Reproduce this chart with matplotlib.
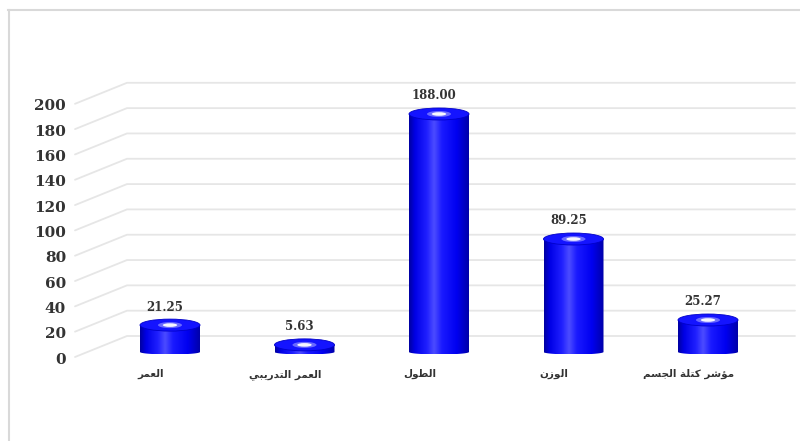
import numpy as np
import matplotlib
matplotlib.use('Agg')
import matplotlib.pyplot as plt
from matplotlib.colors import LinearSegmentedColormap
from matplotlib.patches import Ellipse, Polygon
from matplotlib.lines import Line2D
from matplotlib.transforms import ScaledTranslation

categories = ['العمر', 'العمر التدريبي', 'الطول', 'الوزن', 'مؤشر كتلة الجسم']
values = [21.25, 5.63, 188.00, 89.25, 25.27]
value_labels = ['21.25', '5.63', '188.00', '89.25', '25.27']
y_ticks = list(range(0, 201, 20))

# arabic presentation forms: isolated, final, initial, medial
FORMS = {
    'ا': ('\uFE8D', '\uFE8E', None, None),
    'ل': ('\uFEDD', '\uFEDE', '\uFEDF', '\uFEE0'),
    'ع': ('\uFEC9', '\uFECA', '\uFECB', '\uFECC'),
    'م': ('\uFEE1', '\uFEE2', '\uFEE3', '\uFEE4'),
    'ر': ('\uFEAD', '\uFEAE', None, None),
    'ت': ('\uFE95', '\uFE96', '\uFE97', '\uFE98'),
    'د': ('\uFEA9', '\uFEAA', None, None),
    'ي': ('\uFEF1', '\uFEF2', '\uFEF3', '\uFEF4'),
    'ب': ('\uFE8F', '\uFE90', '\uFE91', '\uFE92'),
    'ط': ('\uFEC1', '\uFEC2', '\uFEC3', '\uFEC4'),
    'و': ('\uFEED', '\uFEEE', None, None),
    'ز': ('\uFEAF', '\uFEB0', None, None),
    'ن': ('\uFEE5', '\uFEE6', '\uFEE7', '\uFEE8'),
    'ؤ': ('\uFE85', '\uFE86', None, None),
    'ش': ('\uFEB5', '\uFEB6', '\uFEB7', '\uFEB8'),
    'ك': ('\uFED9', '\uFEDA', '\uFEDB', '\uFEDC'),
    'ة': ('\uFE93', '\uFE94', None, None),
    'ج': ('\uFE9D', '\uFE9E', '\uFE9F', '\uFEA0'),
    'س': ('\uFEB1', '\uFEB2', '\uFEB3', '\uFEB4'),
}


def shape_ar(text):
    out = []
    for i, c in enumerate(text):
        if c not in FORMS:
            out.append(c)
            continue
        prev = text[i - 1] if i > 0 else None
        nxt = text[i + 1] if i + 1 < len(text) else None
        join_prev = prev in FORMS and FORMS[prev][2] is not None
        join_next = nxt in FORMS and FORMS[c][2] is not None
        iso, fin, ini, med = FORMS[c]
        if join_prev and join_next:
            out.append(med)
        elif join_prev:
            out.append(fin)
        elif join_next:
            out.append(ini)
        else:
            out.append(iso)
    return ''.join(reversed(out))


W, H = 800, 441
PX_UNIT = 1.266      # pixels per value unit
BASE_Y = 352         # pixel row of value 0 (from top)
X0, DX = 170, 134.5  # first bar centre and spacing in px
AX_LEFT = 72

fig = plt.figure(figsize=(W / 100, H / 100), dpi=100)
fig.patch.set_facecolor('white')
ylo, yhi = -20, 230
bottom_px = BASE_Y - ylo * PX_UNIT
top_px = BASE_Y - yhi * PX_UNIT
ax = fig.add_axes([AX_LEFT / W, 1 - bottom_px / H, 1 - AX_LEFT / W, (bottom_px - top_px) / H])

# 3d-ish gridlines: side wall diagonal + back wall
for v in y_ticks:
    ax.plot([(75 - X0) / DX, (127 - X0) / DX, (795 - X0) / DX],
            [v - 5 / PX_UNIT, v + 16 / PX_UNIT, v + 16 / PX_UNIT],
            color='#e6e6e6', lw=1.3, zorder=1, solid_capstyle='round')

bar_w = 60 / DX
top_h = 12 / PX_UNIT
bot_h = 5 / PX_UNIT
grad = np.linspace(0, 1, 256).reshape(1, -1)
cmap = LinearSegmentedColormap.from_list('cyl', [
    (0, '#0000a0'), (0.1, '#0000e6'), (0.3, '#2020ff'), (0.42, '#4c4cff'),
    (0.55, '#1a1aff'), (0.8, '#0000f0'), (1, '#0000a8')])

for i, v in enumerate(values):
    xl, xr = i - bar_w / 2, i + bar_w / 2
    t = np.linspace(np.pi, 2 * np.pi, 60)
    arc = np.column_stack([i + bar_w / 2 * np.cos(t), bot_h / 2 * np.sin(t)])
    poly = np.vstack([arc, [[xr, v], [xl, v]]])
    clip = Polygon(poly, closed=True, transform=ax.transData)
    im = ax.imshow(grad, cmap=cmap, extent=[xl, xr, -bot_h / 2, v], aspect='auto',
                   interpolation='bicubic', zorder=3)
    im.set_clip_path(clip)
    ax.add_patch(Ellipse((i, v), bar_w, top_h, facecolor='#1414ff', edgecolor='#0000c8', lw=0.6, zorder=4))
    ax.add_patch(Ellipse((i, v), bar_w * 0.4, top_h * 0.5, facecolor='#6a6aff', edgecolor='none', zorder=5))
    ax.add_patch(Ellipse((i, v), bar_w * 0.24, top_h * 0.3, facecolor='#f6f6ff', edgecolor='none', zorder=5))
    ax.annotate(value_labels[i], xy=(i, v), xytext=(-3.5, 13), textcoords='offset points',
                ha='center', va='center', fontsize=8.5, fontweight='bold',
                family='DejaVu Serif', color='#333333', zorder=6)
    ax.annotate(shape_ar(categories[i]), xy=(i, 0), xytext=(-14, -16), textcoords='offset points',
                ha='center', va='center', fontsize=7.5, fontweight='bold',
                family='DejaVu Sans', color='#333333')

ax.set_xlim((AX_LEFT - X0) / DX, (W - X0) / DX)
ax.set_ylim(ylo, yhi)
ax.set_xticks([])
ax.set_yticks(y_ticks)
ax.set_yticklabels([str(v) for v in y_ticks], fontfamily='DejaVu Serif', fontweight='bold',
                   fontsize=11, color='#333333')
ax.tick_params(axis='y', length=0, pad=4.3)
for lab in ax.get_yticklabels():
    lab.set_transform(lab.get_transform() + ScaledTranslation(0, -0.06, fig.dpi_scale_trans))
for s in ax.spines.values():
    s.set_visible(False)
ax.set_facecolor('none')

# chart area border (left and top edges visible)
fig.add_artist(Line2D([8.5 / W, 8.5 / W], [0, 1 - 10 / H], color='#d9d9d9', lw=1.5))
fig.add_artist(Line2D([8 / W, 1], [1 - 10 / H, 1 - 10 / H], color='#d9d9d9', lw=1.5))

fig.savefig('out.png', dpi=100)
